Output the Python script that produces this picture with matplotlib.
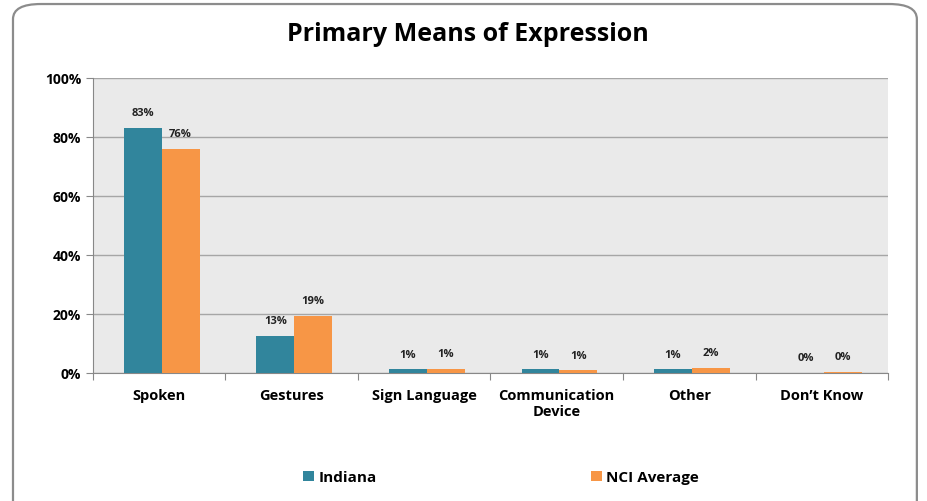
import matplotlib.pyplot as plt
import numpy as np
from matplotlib.patches import FancyBboxPatch

categories = ["Spoken", "Gestures", "Sign Language", "Communication\nDevice", "Other", "Don\u2019t Know"]
indiana = [83, 12.6, 1.2, 1.2, 1.2, 0.0]
nci_avg = [76, 19.3, 1.5, 0.9, 1.8, 0.3]
indiana_labels = ["83%", "13%", "1%", "1%", "1%", "0%"]
nci_labels = ["76%", "19%", "1%", "1%", "2%", "0%"]
yticks = [0, 20, 40, 60, 80, 100]

teal = "#31859C"
orange = "#F79646"

plt.rcParams["font.family"] = ["Open Sans", "DejaVu Sans"]
plt.rcParams["font.weight"] = "bold"

fig = plt.figure(figsize=(9.28, 5.02), dpi=100)
fig.patch.set_facecolor("white")

# rounded outer frame
frame = FancyBboxPatch((0.014, -0.05), 0.974, 1.04,
                       boxstyle="round,pad=0,rounding_size=0.03",
                       transform=fig.transFigure, facecolor="none",
                       edgecolor="#8C8C8C", linewidth=1.6, zorder=10)
fig.patches.append(frame)

ax = fig.add_axes([0.1, 0.255, 0.857, 0.588])
ax.set_facecolor("#EAEAEA")

x = np.arange(len(categories))
w = 0.285
b1 = ax.bar(x - w / 2 + 0.02, indiana, w, color=teal, label="Indiana", zorder=3)
b2 = ax.bar(x + w / 2 + 0.02, nci_avg, w, color=orange, label="NCI Average", zorder=3)

for bars, labels in ((b1, indiana_labels), (b2, nci_labels)):
    for rect, lab in zip(bars, labels):
        ax.annotate(lab, (rect.get_x() + rect.get_width() / 2, rect.get_height()),
                    xytext=(0, 7), textcoords="offset points", ha="center",
                    va="bottom", fontsize=8, fontweight="bold", color="#222222")

ax.set_xlim(-0.5, len(categories) - 0.5)
ax.set_ylim(0, 100)
ax.set_yticks(yticks)
ax.set_yticklabels([f"{t}%" for t in yticks], fontsize=10, fontweight="bold")
ax.yaxis.grid(True, color="#A6A6A6", linewidth=1, zorder=0)
ax.set_axisbelow(True)

ax.set_xticks(np.arange(len(categories) + 1) - 0.5, minor=False)
ax.set_xticklabels([])
ax.set_xticks(x, minor=True)
ax.set_xticklabels(categories, minor=True, fontsize=10.5, fontweight="bold",
                   linespacing=1.15)
ax.tick_params(axis="x", which="minor", length=0, pad=11)
ax.tick_params(axis="x", which="major", length=5, color="#888888")
ax.tick_params(axis="y", length=5, color="#888888")

for side in ["top", "right"]:
    ax.spines[side].set_visible(False)
ax.spines["left"].set_color("#888888")
ax.spines["bottom"].set_color("#888888")

fig.text(0.504, 0.932, "Primary Means of Expression", ha="center", va="center",
         fontsize=18, fontweight="bold")

fig.legend(handles=[b1, b2], loc="center", bbox_to_anchor=(0.54, 0.047), ncol=2,
           frameon=False, fontsize=11, handlelength=0.7, handleheight=0.7,
           handletextpad=0.3, columnspacing=14)

fig.savefig("out.png", dpi=100)
